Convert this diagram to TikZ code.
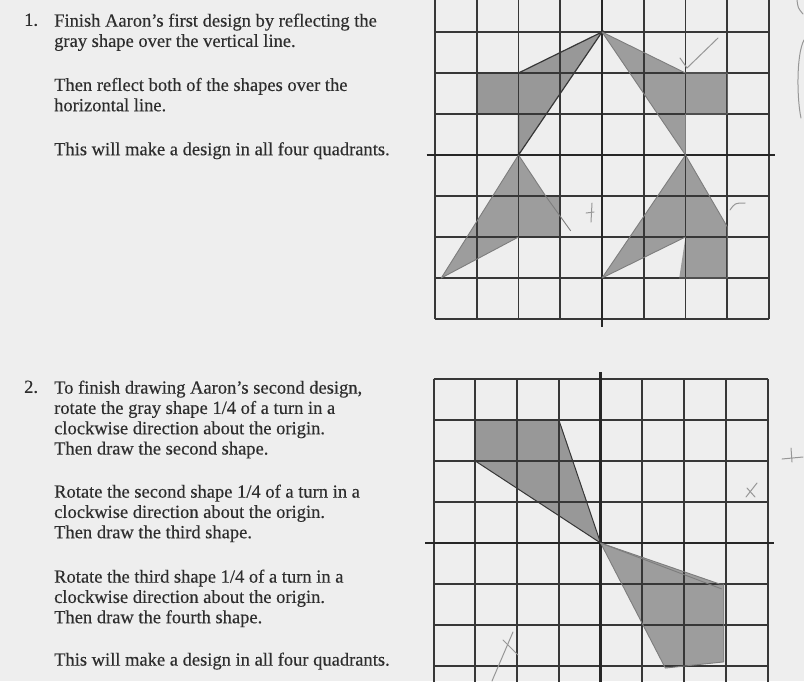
\documentclass[tikz,border=0pt]{standalone}
\usepackage{fontspec}
\setmainfont{Liberation Serif}[FakeBold=0.3]
\usetikzlibrary{positioning}
\definecolor{paper}{RGB}{238,238,238}
\definecolor{ink}{RGB}{45,45,45}
\definecolor{gridink}{RGB}{55,55,55}
\definecolor{shade}{RGB}{152,152,152}
\definecolor{pencil}{RGB}{125,125,125}
\tikzset{
  gridline/.style={draw=gridink, line width=1.8pt},
  axisline/.style={draw=black!85, line width=2.4pt},
  task/.style={inner sep=0pt, anchor=north west, align=left, text=ink,
    font=\fontsize{18.5}{20.3}\selectfont},
  given/.style={fill=shade},
  copied/.style={fill=shade!95},
  edge/.style={draw=pencil, line width=0.9pt, line join=round},
  scribble/.style={draw=pencil!80, line width=1pt, line cap=round},
}
\begin{document}
\begin{tikzpicture}[x=1pt,y=-1pt]
\useasboundingbox[fill=paper] (0,0) rectangle (804,681);
\clip (0,0) rectangle (804,681);

% exercise 1
\node[task] (num1) at (24,13.4) {1.};
\node[task] (q1a) at (54,13.4) {Finish Aaron's first design by reflecting the\\gray shape over the vertical line.};
\node[task] (q1b) at (54,77.7) {Then reflect both of the shapes over the\\horizontal line.};
\node[task] (q1c) at (54,142) {This will make a design in all four quadrants.};

\begin{scope}[shift={(602,155)}, x=41.75pt, y=41pt]
  \fill[given] (0,3) -- (-2,2) -- (-3,2) -- (-3,1) -- (-2,1) -- (-2,0) -- cycle;
  \fill[copied] (0,3) -- (2,2) -- (3,2) -- (3,1) -- (2,1) -- (2,0) -- cycle;
  \fill[copied] (-2,0) -- (-1.35,-1) -- (-1,-1) -- (-1,-2) -- (-2,-2) -- (-3.85,-3) -- cycle;
  \fill[copied] (2,0) -- (3,-1.75) -- (3,-3) -- (1.85,-3) -- (2,-2) -- (0,-3) -- cycle;
  \foreach \i in {-4,...,4} {
    \draw[gridline] (\i,-4) -- (\i,4);
    \draw[gridline] (-4,\i) -- (4,\i);
  }
  \draw[axisline] (-4.2,0) -- (4.15,0);
  \draw[axisline] (0,4.3) -- (0,-4.2);
  \draw[gridink, line width=1.2pt] (0,3) -- (-2,2) -- (-3,2) -- (-3,1) -- (-2,1) -- (-2,0) -- cycle;
  \draw[edge] (0,3) -- (2,2) -- (3,2) -- (3,1) -- (2,1) -- (2,0) -- cycle;
  \draw[edge] (-2,0) -- (-1.35,-1) -- (-0.75,-1.85);
  \draw[edge] (-2,0) -- (-3.85,-3) -- (-2,-2);
  \draw[edge] (2,0) -- (0,-3) -- (2,-2);
  \draw[edge] (2,0) -- (3,-1.75) -- (3,-3) -- (1.85,-3);
\end{scope}

% pencil marks
\draw[scribble] (680,58) -- (687,68) -- (718,38);
\draw[scribble] (730,210) .. controls (735,203) .. (745,203);
\draw[scribble] (592,203) -- (591,222);
\draw[scribble] (586,213) -- (594,212);
\draw[scribble] (797,0) .. controls (798,8) .. (803,14);
\draw[scribble] (804,40) .. controls (796,55) and (797,100) .. (801,118);

% exercise 2
\node[task] (num2) at (24,380.4) {2.};
\node[task] (q2a) at (54,380.4) {To finish drawing Aaron's second design,\\rotate the gray shape 1/4 of a turn in a\\clockwise direction about the origin.\\Then draw the second shape.};
\node[task] (q2b) at (54,484.4) {Rotate the second shape 1/4 of a turn in a\\clockwise direction about the origin.\\Then draw the third shape.};
\node[task] (q2c) at (54,569.4) {Rotate the third shape 1/4 of a turn in a\\clockwise direction about the origin.\\Then draw the fourth shape.};
\node[task] (q2d) at (54,652.4) {This will make a design in all four quadrants.};

\begin{scope}[shift={(600.6,543)}, x=41.75pt, y=41pt]
  \fill[given] (-3,3) -- (-1,3) -- (0,0) -- (-3,2) -- cycle;
  \fill[copied] (0,0) -- (2.85,-1) -- (2.95,-1) -- (2.95,-2.9) -- (1.55,-3.05) -- cycle;
  \foreach \i in {-4,...,4} {
    \draw[gridline] (\i,-4) -- (\i,4);
    \draw[gridline] (-4,\i) -- (4,\i);
  }
  \draw[axisline] (-4.2,0) -- (4.15,0);
  \draw[axisline] (0,4.17) -- (0,-4.3);
  \draw[gridink, line width=1pt] (-3,3) -- (-1,3) -- (0,0) -- (-3,2) -- cycle;
  \draw[edge] (0,0) -- (2.85,-1) -- (2.95,-1) -- (2.95,-2.9) -- (1.55,-3.05) -- cycle;
  \draw[edge] (0,0) -- (2.9,-1.12);
\end{scope}

% pencil marks
\draw[scribble] (746,497) -- (757,483);
\draw[scribble] (747,488) -- (755,497);
\draw[scribble] (782,459) -- (803,457);
\draw[scribble] (791,448) -- (792,462);
\draw[scribble] (503,640) -- (518,655);
\draw[scribble] (513,632) -- (492,681);
\end{tikzpicture}
\end{document}
